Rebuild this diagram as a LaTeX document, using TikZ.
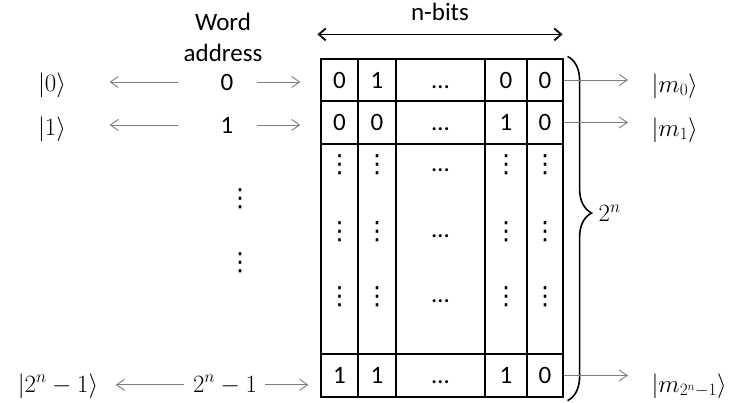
\documentclass[tikz,border=0pt]{standalone}
\usepackage{fontspec}
\setmainfont{Carlito}
\newfontfamily\symfont{DejaVu Sans}
\usetikzlibrary{positioning, arrows.meta, decorations.pathreplacing}

\definecolor{linkgray}{RGB}{125,125,125}
% vertical dots and a baseline-aligned ellipsis
\newcommand{\coldots}{{\symfont ⋮}}
\newcommand{\rowdots}{\vphantom{0}…}

\begin{document}
\begin{tikzpicture}[x=1pt, y=-1pt, font=\fontsize{25}{31}\selectfont,
	cell/.style={draw, line width=1.2pt, inner sep=0pt},
	link/.style={-{Straight Barb[length=8pt, width=11pt]}, draw=linkgray, line width=0.9pt},
	bits/.style={{Straight Barb[length=7pt, width=12pt]}-{Straight Barb[length=7pt, width=12pt]}, line width=1.8pt},
	dotmark/.style={inner sep=0pt}]
	\useasboundingbox (0,0) rectangle (738,402);

	% memory words
	\node[cell, minimum width=37pt, minimum height=42pt	] (c11) at (339.5,80)	{0};
	\node[cell, minimum width=38pt, minimum height=42pt	] (c12) at (377,80)		{1};
	\node[cell, minimum width=89pt, minimum height=42pt	] (c13) at (440.5,80)	{\rowdots};
	\node[cell, minimum width=42pt, minimum height=42pt	] (c14) at (506,80)		{0};
	\node[cell, minimum width=36pt, minimum height=42pt	] (c15) at (545,80)		{0};

	\node[cell, minimum width=37pt, minimum height=43pt	] (c21) at (339.5,122.5)	{0};
	\node[cell, minimum width=38pt, minimum height=43pt	] (c22) at (377,122.5)		{0};
	\node[cell, minimum width=89pt, minimum height=43pt	] (c23) at (440.5,122.5)	{\rowdots};
	\node[cell, minimum width=42pt, minimum height=43pt	] (c24) at (506,122.5)		{1};
	\node[cell, minimum width=36pt, minimum height=43pt	] (c25) at (545,122.5)		{0};

	\node[cell, minimum width=37pt, minimum height=210pt] (c31) at (339.5,249)	{};
	\node[cell, minimum width=38pt, minimum height=210pt] (c32) at (377,249)	{};
	\node[cell, minimum width=89pt, minimum height=210pt] (c33) at (440.5,249)	{};
	\node[cell, minimum width=42pt, minimum height=210pt] (c34) at (506,249)	{};
	\node[cell, minimum width=36pt, minimum height=210pt] (c35) at (545,249)	{};

	\node[cell, minimum width=37pt, minimum height=43pt	] (c41) at (339.5,375.5)	{1};
	\node[cell, minimum width=38pt, minimum height=43pt	] (c42) at (377,375.5)		{1};
	\node[cell, minimum width=89pt, minimum height=43pt	] (c43) at (440.5,375.5)	{\rowdots};
	\node[cell, minimum width=42pt, minimum height=43pt	] (c44) at (506,375.5)		{1};
	\node[cell, minimum width=36pt, minimum height=43pt	] (c45) at (545,375.5)		{0};

	% dots inside the tall cells
	\node[dotmark] (v11) at (c31 |- 0,165)	{\coldots};
	\node[dotmark] (v12) at (c32 |- 0,165)	{\coldots};
	\node[dotmark] (v13) at (c33 |- 0,170)	{…};
	\node[dotmark] (v14) at (c34 |- 0,165)	{\coldots};
	\node[dotmark] (v15) at (c35 |- 0,165)	{\coldots};
	\node[dotmark] (v21) at (c31 |- 0,232)	{\coldots};
	\node[dotmark] (v22) at (c32 |- 0,232)	{\coldots};
	\node[dotmark] (v23) at (c33 |- 0,236)	{…};
	\node[dotmark] (v24) at (c34 |- 0,232)	{\coldots};
	\node[dotmark] (v25) at (c35 |- 0,232)	{\coldots};
	\node[dotmark] (v31) at (c31 |- 0,297)	{\coldots};
	\node[dotmark] (v32) at (c32 |- 0,297)	{\coldots};
	\node[dotmark] (v33) at (c33 |- 0,301)	{…};
	\node[dotmark] (v34) at (c34 |- 0,297)	{\coldots};
	\node[dotmark] (v35) at (c35 |- 0,297)	{\coldots};

	% addresses and their kets
	\node[align=center, anchor=north] (word) at (223,10)	{Word\\address};
	\node[anchor=base] (a0)		at (227,90)		{0};
	\node[anchor=base] (a1)		at (227,133)	{1};
	\node[dotmark]		(ad1)	at (240,199)	{\coldots};
	\node[dotmark]		(ad2)	at (240,263)	{\coldots};
	\node[anchor=base] (a2n)	at (225,392)	{$2^n-1$};

	\node[anchor=base] (k0)		at (52,91)		{$|0\rangle$};
	\node[anchor=base] (k1)		at (52,135)		{$|1\rangle$};
	\node[anchor=base] (k2n)	at (58,392)		{$|2^n-1\rangle$};

	\node[anchor=base west] (m0)	at (648,92)		{$|m_0\rangle$};
	\node[anchor=base west] (m1)	at (648,136)	{$|m_1\rangle$};
	\node[anchor=base west] (m2n)	at (648,392)	{$|m_{2^n-1}\rangle$};

	% word width and number of words
	\draw[bits] ([xshift=-3pt, yshift=24pt]c11.north west) -- ([xshift=-1pt, yshift=24pt]c15.north east)
		node[midway, above=9pt] (nbits) {n-bits};
	\draw[decorate, decoration={brace, amplitude=24pt, aspect=0.455}, line width=1.6pt]
		([xshift=4pt, yshift=2pt]c15.north east) -- ([xshift=4pt, yshift=-3pt]c45.south east)
		node[pos=0.455, right=27pt] (words) {$2^n$};

	% address lines
	\draw[link, shorten <=39pt, shorten >=40pt]	(a0.west)	-- (a0.west -| k0.east);
	\draw[link, shorten <=20pt, shorten >=20pt]	(a0.east)	-- (a0.east -| c11.west);
	\draw[link, shorten <=39pt, shorten >=40pt]	(a1.west)	-- (a1.west -| k1.east);
	\draw[link, shorten <=20pt, shorten >=20pt]	(a1.east)	-- (a1.east -| c21.west);
	\draw[link, shorten <=6pt, shorten >=14pt]	(a2n.west)	-- (a2n.west -| k2n.east);
	\draw[link, shorten <=5pt, shorten >=12pt]	(a2n.east)	-- (a2n.east -| c41.west);

	% data out
	\draw[link, shorten >=20pt]	(c15.east) -- (c15.east -| m0.west);
	\draw[link, shorten >=20pt]	(c25.east) -- (c25.east -| m1.west);
	\draw[link, shorten >=20pt]	(c45.east) -- (c45.east -| m2n.west);
\end{tikzpicture}
\end{document}
